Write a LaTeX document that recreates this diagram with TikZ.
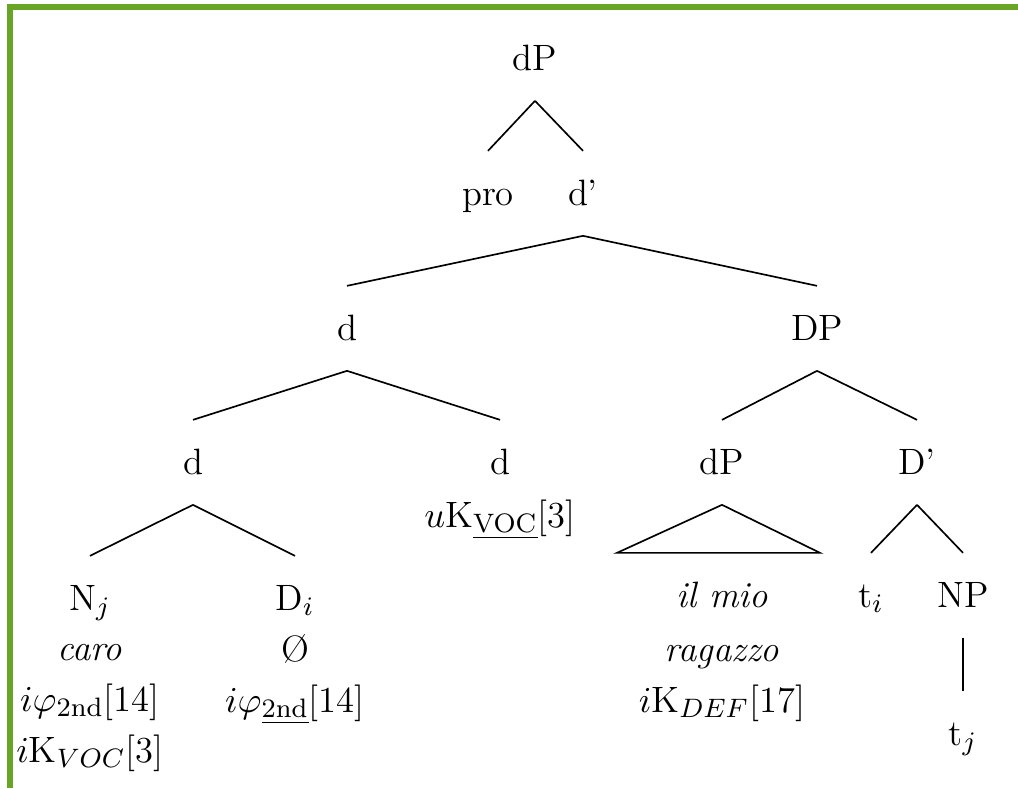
\documentclass[tikz,border=0pt]{standalone}
\usepackage{tikz}
\definecolor{framegreen}{RGB}{104,165,36}

\begin{document}
\begin{tikzpicture}[x=0.3pt,y=-0.3pt,line width=0.5pt,
  every node/.style={inner sep=0pt,font=\fontsize{11}{15.3}\selectfont},
  lab/.style={anchor=base,text height=9pt,text depth=2pt,inner ysep=7pt},
  feat/.style={anchor=base,align=center}]
  \useasboundingbox (0,0) rectangle (1018,788);
  \draw[framegreen,line width=1.8pt] (10,788) -- (10,7) -- (1018,7);
  % top of the tree
  \node[lab] (top) at (535,70) {dP};
  \node[lab] (pro) at (488,205) {pro};
  \node[lab] (dbar) at (583,205) {d'};
  \node[lab] (dl) at (347,340) {d};
  \node[lab] (DP) at (817,340) {DP};
  % fourth row
  \node[lab] (dll) at (193,474) {d};
  \node[lab] (dlr) at (500,474) {d};
  \node[feat] (dlrf) at (500,527) {$u$K$_{\underline{\mathrm{VOC}}}$[3]};
  \node[lab] (dPr) at (722,474) {dP};
  \node[lab] (Dbar) at (917,474) {D'};
  % leaves (the base of a feature stack is its last line)
  \node[lab] (N) at (90,610) {N$_j$};
  \node[feat] (Nf) at (90,762) {\textit{caro}\\$i\varphi_{\mathrm{2nd}}$[14]\\$i$K$_{VOC}$[3]};
  \node[lab] (D) at (295,610) {D$_i$};
  \node[feat] (Df) at (295,712) {\O\\$i\varphi_{\underline{\mathrm{2nd}}}$[14]};
  \node[lab] (mio) at (722,607) {\textit{il mio}};
  \node[feat] (miof) at (722,712) {\textit{ragazzo}\\$i$K$_{DEF}$[17]};
  \node[lab] (ti) at (871,607) {t$_i$};
  \node[lab] (NP) at (963,607) {NP};
  \node[lab] (tj) at (963,745) {t$_j$};
  % branches
  \path (top.south) edge (pro.north) edge (dbar.north);
  \path (dbar.south) edge (dl.north) edge (DP.north);
  \path (dl.south) edge (dll.north) edge (dlr.north);
  \path (DP.south) edge (dPr.north) edge (Dbar.north);
  \path (dll.south) edge (N.north) edge (D.north);
  \path (Dbar.south) edge (ti.north) edge (NP.north);
  \path (NP.south) edge (tj.north);
  \draw (dPr.south) -- ([xshift=-31.5pt]mio.north) -- ([xshift=29.4pt]mio.north) -- cycle;
\end{tikzpicture}
\end{document}
